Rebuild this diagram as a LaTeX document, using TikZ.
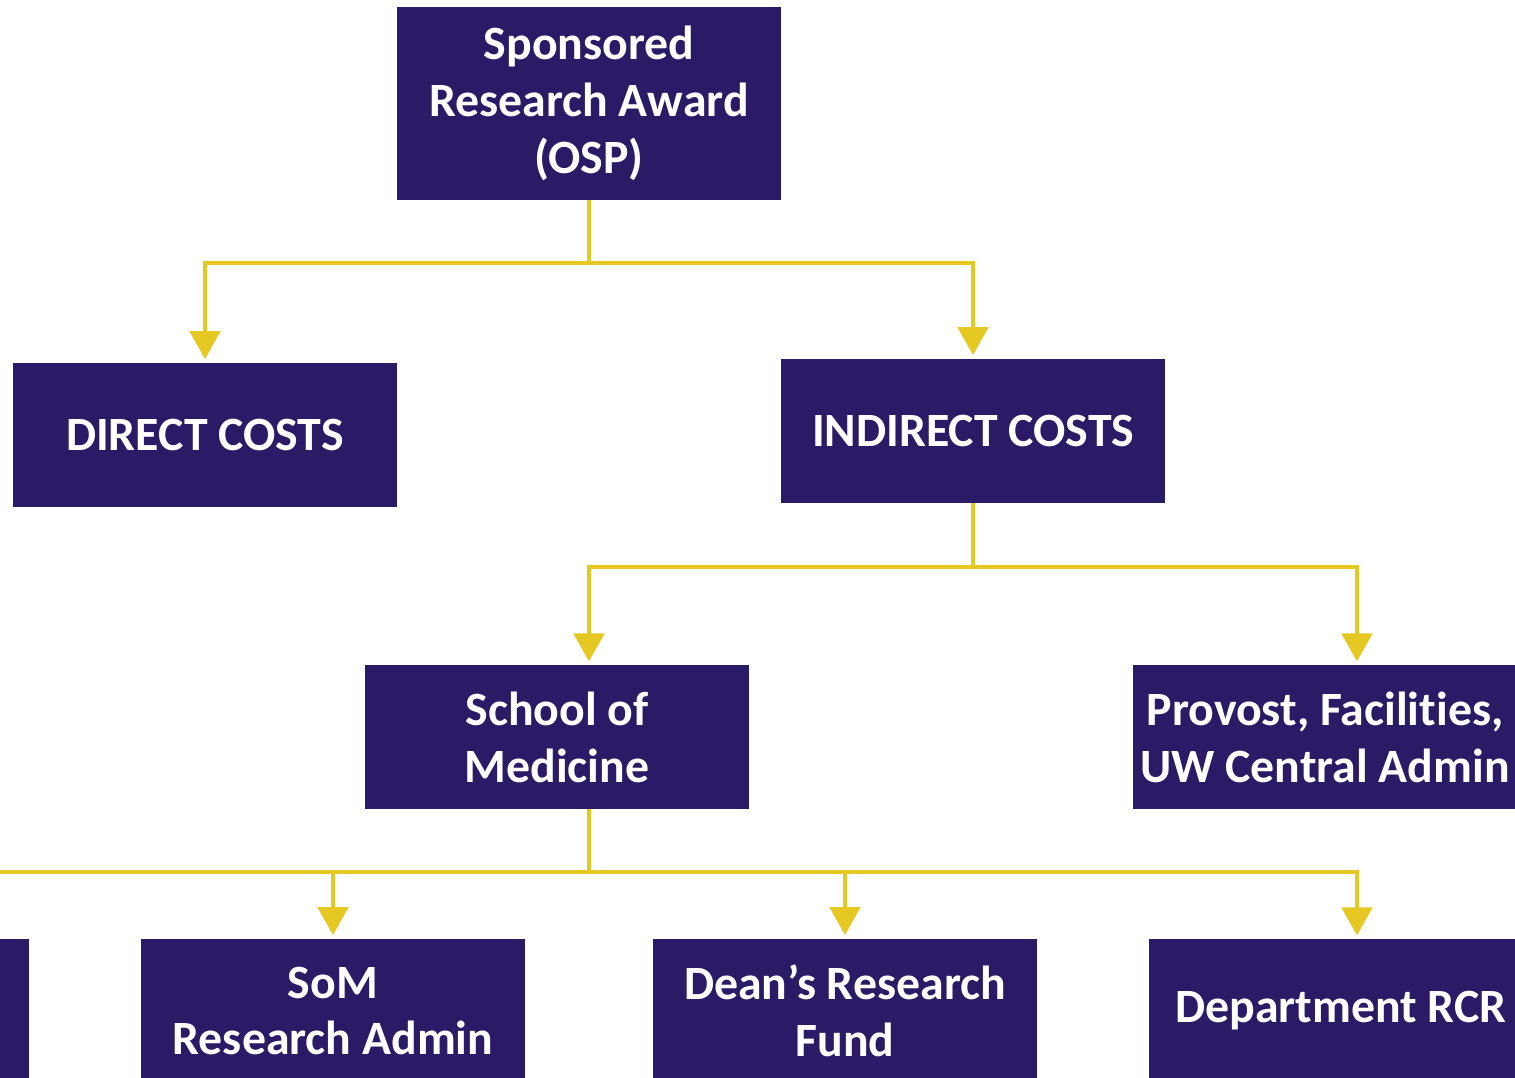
\documentclass[tikz,border=0pt]{standalone}
\usepackage{fontspec}
\setmainfont[Ligatures={NoCommon}]{Carlito}
\usetikzlibrary{arrows.meta}
\usetikzlibrary{positioning}
\definecolor{uwpurple}{RGB}{43,26,102}
\definecolor{uwgold}{RGB}{229,200,34}

\begin{document}
\begin{tikzpicture}[x=0.02cm, y=-0.02cm,
                font=\bfseries\fontsize{27.2}{32.4}\selectfont,
                block/.style={rectangle, fill=uwpurple, text=white, align=center, minimum width=7.68cm, minimum height=2.88cm, inner sep=0pt},
                link/.style={draw=uwgold, line width=2.8pt},
                arrow/.style={link, -{Triangle[width=0.6cm,length=0.56cm]}, shorten >=2pt}
            ]
            \useasboundingbox (0,0) rectangle (1515,1078);
            \node[block, minimum height=3.86cm](osp) at (589,103.5){Sponsored\\Research Award\\(OSP)};
            \node[block](direct) at (205,435){DIRECT COSTS};
            \node[block](indirect) at (973,431){INDIRECT COSTS};
            \node[block](som) at (557,737){School of\\Medicine};
            \node[block](provost) at (1325,737){Provost, Facilities,\\UW Central Admin};
            \node[block](other) at (-163,1011){};
            \node[block](admin) at (333,1011){SoM\\Research Admin};
            \node[block](dean) at (845,1011){Dean’s Research\\Fund};
            \node[block](dept) at (1341,1011){Department RCR};
            % split points and arrow ends
            \coordinate (split1) at (589,263);
            \coordinate (split2) at (973,567);
            \coordinate (split3) at (589,872);
            \coordinate (somin) at (589,665);
            \coordinate (provin) at (1357,665);
            \coordinate (deptin) at (1357,939);
            \path[link] (osp.south) -- (split1);
            \path[arrow] (split1) -| (direct.north);
            \path[arrow] (split1) -| (indirect.north);
            \path[link] (indirect.south) -- (split2);
            \path[arrow] (split2) -| (somin);
            \path[arrow] (split2) -| (provin);
            \path[link] (som.south -| split3) -- (split3);
            \path[arrow] (split3) -| (other.north);
            \path[arrow] (split3) -| (admin.north);
            \path[arrow] (split3) -| (dean.north);
            \path[arrow] (split3) -| (deptin);
        \end{tikzpicture}
\end{document}
